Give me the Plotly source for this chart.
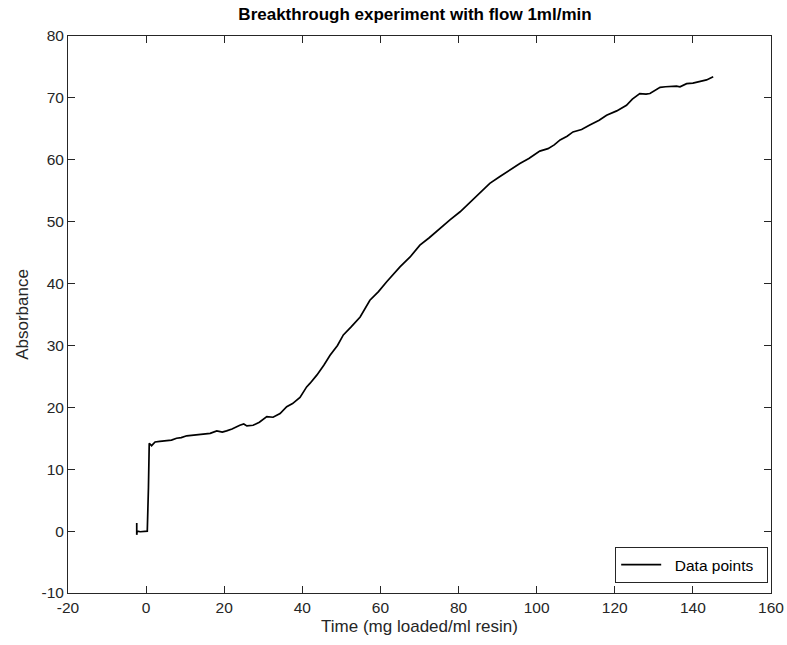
import plotly.graph_objects as go

time = [-2.4, -2.4, -2.3, -1.5, -0.5, 0.3, 0.6, 0.8, 1.4, 2.3, 3.5, 5.3, 6.5, 7.8, 9.0, 10.4,
        12.0, 13.8, 15.0, 16.4, 18.1, 19.5, 20.6, 22.0, 24.0, 25.0, 25.8, 27.4, 29.0, 30.9,
        32.5, 34.3, 36.0, 37.5, 39.4, 41.1, 42.0, 43.7, 45.5, 47.1, 49.0, 50.5, 52.5, 54.8,
        57.3, 59.5, 61.6, 63.5, 65.0, 67.6, 70.1, 72.5, 75.2, 77.8, 80.4, 83.0, 85.5, 88.0,
        90.6, 93.0, 95.7, 98.0, 100.8, 102.9, 104.5, 106.0, 107.8, 109.3, 111.5, 113.6, 116.0,
        117.9, 120.5, 123.0, 124.5, 126.4, 128.0, 129.0, 130.5, 131.6, 133.0, 134.9, 135.8,
        136.7, 138.4, 140.0, 141.8, 143.5, 145.2]
absorbance = [1.3, -0.6, 0.0, -0.1, 0.0, 0.0, 7.0, 14.2, 13.8, 14.4, 14.5, 14.6, 14.7, 15.0,
              15.1, 15.4, 15.5, 15.6, 15.6, 15.8, 16.2, 16.0, 16.2, 16.5, 17.1, 17.3, 17.0,
              17.1, 17.6, 18.5, 18.4, 19.0, 20.1, 20.6, 21.6, 23.3, 23.9, 25.2, 26.8, 28.4,
              30.0, 31.7, 33.0, 34.6, 37.3, 38.7, 40.3, 41.6, 42.7, 44.3, 46.2, 47.4, 48.9,
              50.3, 51.6, 53.2, 54.8, 56.2, 57.3, 58.3, 59.4, 60.2, 61.4, 61.8, 62.4, 63.2,
              63.8, 64.5, 64.9, 65.6, 66.4, 67.2, 67.9, 68.8, 69.8, 70.7, 70.6, 70.7, 71.2,
              71.7, 71.8, 71.9, 71.9, 71.8, 72.3, 72.4, 72.6, 72.9, 73.4]

x_ticks = [-20, 0, 20, 40, 60, 80, 100, 120, 140, 160]
y_ticks = [-10, 0, 10, 20, 30, 40, 50, 60, 70, 80]

font_family = "Liberation Sans, Arial, sans-serif"
axis_color = "#262626"

fig = go.Figure()
fig.add_trace(go.Scatter(
    x=time, y=absorbance, mode="lines", name="\u00a0\u00a0Data points\u00a0\u00a0",
    line=dict(color="black", width=1.7),
))

axis_common = dict(
    showgrid=False, zeroline=False, showline=True, linecolor=axis_color, linewidth=1,
    mirror="ticks", ticks="inside", ticklen=7, tickcolor=axis_color, tickwidth=1,
    tickfont=dict(family=font_family, size=15.5, color=axis_color), automargin=False,
)

fig.update_layout(
    width=787, height=645,
    margin=dict(l=68, r=16, t=36, b=52),
    paper_bgcolor="white", plot_bgcolor="white",
    title=dict(text="<b>Breakthrough experiment with flow 1ml/min</b>",
               x=415 / 787, xanchor="center", y=1 - 14 / 645, yanchor="middle",
               font=dict(family=font_family, size=17, color="black")),
    xaxis=dict(range=[-20, 160], tickvals=x_ticks, ticktext=[str(v) for v in x_ticks],
               title=dict(text="Time (mg loaded/ml resin)", standoff=5,
                          font=dict(family=font_family, size=17, color=axis_color)),
               **axis_common),
    yaxis=dict(range=[-10, 80], tickvals=y_ticks, ticktext=[str(v) for v in y_ticks],
               title=dict(text="Absorbance", standoff=8,
                          font=dict(family=font_family, size=17, color=axis_color)),
               **axis_common),
    showlegend=True,
    legend=dict(x=0.996, xanchor="right", y=0.018, yanchor="bottom",
                bordercolor=axis_color, borderwidth=1, bgcolor="white",
                font=dict(family=font_family, size=15.5, color="black"),
                tracegroupgap=0, itemwidth=40),
)

fig.write_html("out.html")
